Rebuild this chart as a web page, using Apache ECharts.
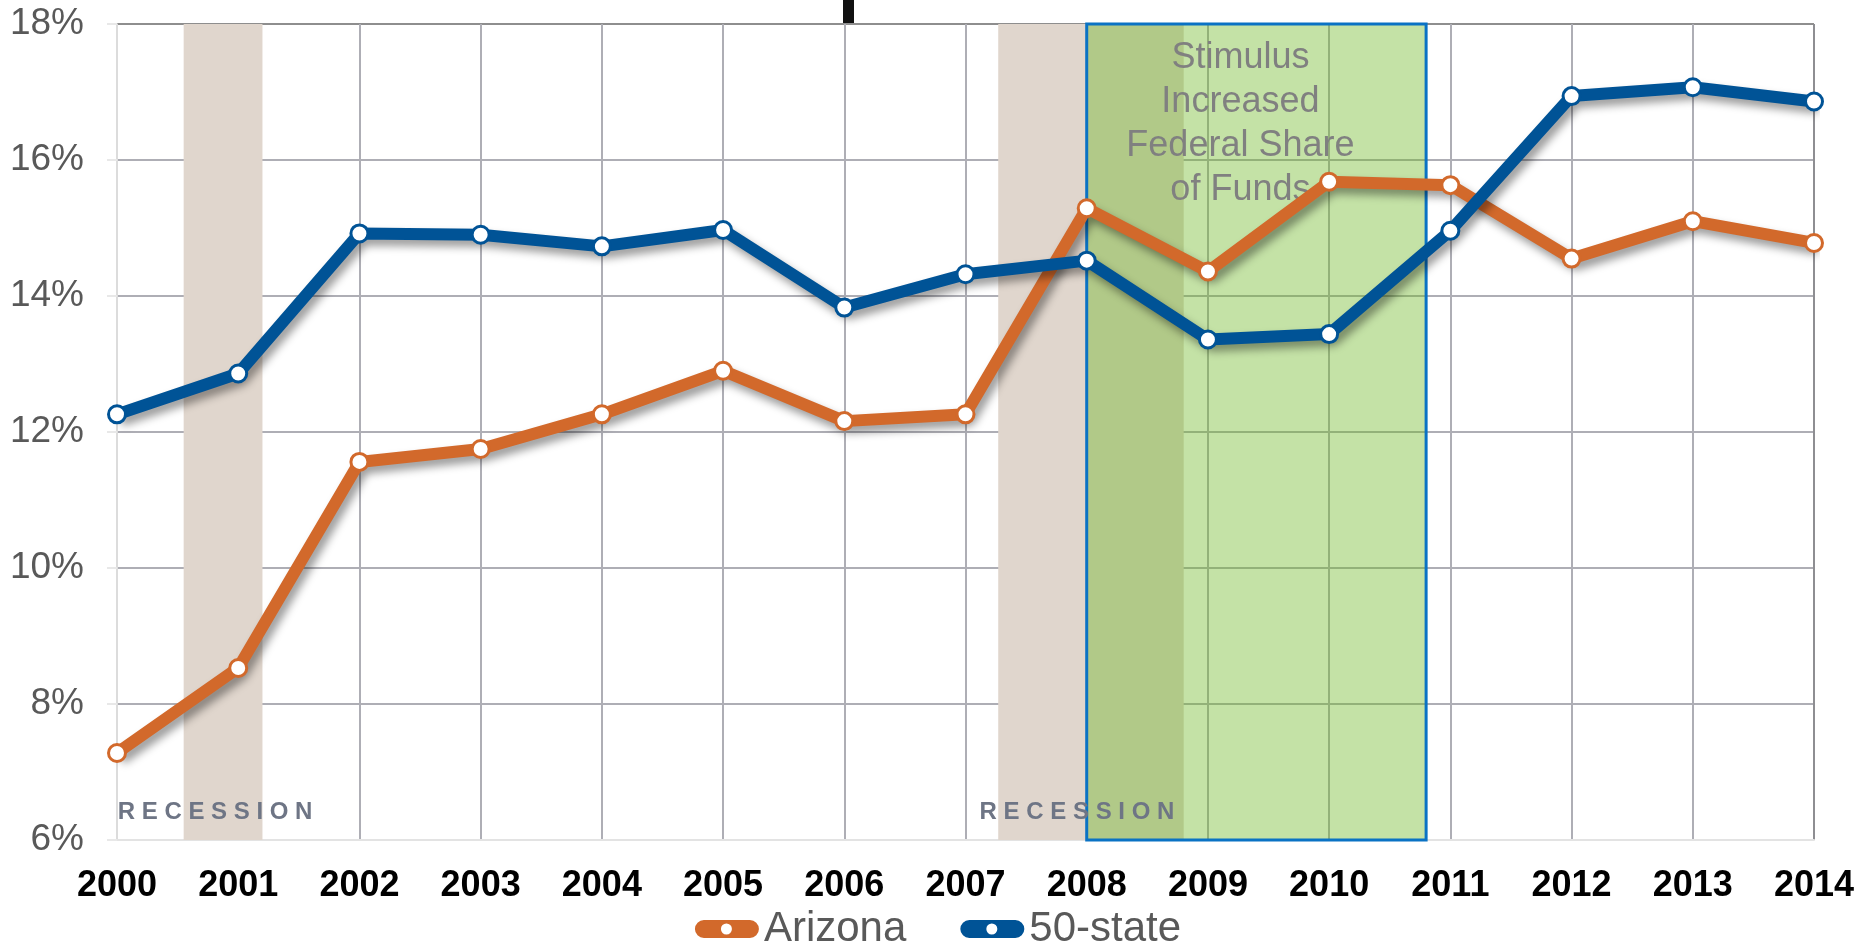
<!DOCTYPE html>
<html>
<head>
<meta charset="utf-8">
<script src="https://cdn.jsdelivr.net/npm/echarts@6/dist/echarts.min.js"></script>
<style>
html,body{margin:0;padding:0;background:#fff;}
#c{width:1876px;height:946px;}
</style>
</head>
<body>
<div id="c"></div>
<script>
const years = [2000,2001,2002,2003,2004,2005,2006,2007,2008,2009,2010,2011,2012,2013,2014];
const arizona = [7.28,8.53,11.56,11.75,12.26,12.90,12.16,12.26,15.29,14.36,15.68,15.63,14.55,15.10,14.78];
const fiftyState = [12.26,12.86,14.92,14.90,14.73,14.97,13.83,14.32,14.52,13.36,13.44,14.96,16.94,17.07,16.86];
const recessions = [[2000.55, 2001.2], [2007.27, 2008.8]];
const stimulus = [2008.0, 2010.8];
const stimulusText = 'Stimulus\nIncreased\nFederal Share\nof Funds';
const recessionText = 'R E C E S S I O N';
const yMin = 6, yMax = 18, yStep = 2;

const FONT = '"Liberation Sans", Arial, sans-serif';
const ORANGE = '#d2692b', BLUE = '#005396';
const toPairs = arr => years.map((y, i) => [y, arr[i]]);

const xSplitColors = years.map((y, i) => i === 0 ? '#dcdcdc' : (i === years.length - 1 ? '#8e8e92' : '#aeaeb5'));
const ySplitColors = [];
for (let v = yMin; v <= yMax; v += yStep) {
  ySplitColors.push(v === yMin ? '#e6e6e6' : (v === yMax ? '#8e8e8e' : '#aeaeb5'));
}

const lineShadow = {shadowColor:'rgba(0,0,0,0.4)', shadowBlur:8, shadowOffsetX:4, shadowOffsetY:6};
// rounded bar with a circular hole (legend icon)
const legendIcon = 'path://M9 0H55A9 9 0 0 1 55 18H9A9 9 0 0 1 9 0ZM37 9A5.5 5.5 0 0 0 26 9A5.5 5.5 0 0 0 37 9Z';

const chart = echarts.init(document.getElementById('c'), null, {renderer:'canvas'});
chart.setOption({
  animation:false,
  backgroundColor:'#ffffff',
  grid:{left:117, right:62, top:24, bottom:106, containLabel:false},
  xAxis:{
    type:'value', min:years[0], max:years[years.length-1], interval:1,
    axisLine:{show:true, onZero:false, lineStyle:{color:'#e3e3e3', width:2}},
    axisTick:{show:false},
    axisLabel:{formatter:v => String(v), color:'#000', fontFamily:FONT, fontWeight:'bold', fontSize:36, margin:28},
    splitLine:{show:true, lineStyle:{color:xSplitColors, width:2}}
  },
  yAxis:{
    type:'value', min:yMin, max:yMax, interval:yStep,
    axisLine:{show:true, lineStyle:{color:'#dcdcdc', width:1}},
    axisTick:{show:true, length:10, lineStyle:{color:'#e8e8e8', width:2}},
    axisLabel:{formatter:v => v + '%', color:'#595959', fontFamily:FONT, fontSize:37, margin:33},
    splitLine:{show:true, lineStyle:{color:ySplitColors, width:2}}
  },
  legend:{
    data:[
      {name:'Arizona', icon:legendIcon, itemStyle:{color:ORANGE, borderWidth:0}},
      {name:'50-state', icon:legendIcon, itemStyle:{color:BLUE, borderWidth:0}}
    ],
    bottom:-9, left:'center',
    itemWidth:64, itemHeight:18, itemGap:54,
    textStyle:{color:'#595959', fontFamily:FONT, fontSize:42}
  },
  graphic:[{type:'rect', left:843, top:0, shape:{width:11, height:24}, style:{fill:'#111'}}],
  series:[
    {
      name:'recessionAreas', type:'line', data:[], z:-3, silent:true,
      markArea:{silent:true, itemStyle:{color:'#e0d6cd'},
        data:recessions.map(r => [{xAxis:r[0]}, {xAxis:r[1]}])}
    },
    {
      name:'stimulusArea', type:'line', data:[], z:-2, silent:true,
      markArea:{silent:true,
        itemStyle:{color:'rgba(107,182,32,0.4)', borderColor:'#0a72c4', borderWidth:3},
        label:{show:true, position:'insideTop', distance:14, offset:[-16,0], formatter:stimulusText,
          color:'#808080', fontFamily:FONT, fontSize:36, lineHeight:44, align:'center'},
        data:[[{xAxis:stimulus[0]}, {xAxis:stimulus[1]}]]}
    },
    {
      name:'recessionLabels', type:'line', data:[], z:-1, silent:true,
      markArea:{silent:true, itemStyle:{color:'rgba(0,0,0,0)'},
        label:{show:true, position:'insideBottom', distance:16, formatter:recessionText,
          color:'#6e7585', fontFamily:FONT, fontWeight:'bold', fontSize:24},
        data:recessions.map((r, i) => [{xAxis:r[0], label:{offset:[i === 0 ? -8 : -14, 0]}}, {xAxis:r[1]}])}
    },
    {
      name:'Arizona', type:'line', data:toPairs(arizona), z:3,
      symbol:'circle', symbolSize:17, showSymbol:true,
      lineStyle:Object.assign({color:ORANGE, width:12}, lineShadow),
      itemStyle:{color:'#ffffff', borderColor:ORANGE, borderWidth:3}
    },
    {
      name:'50-state', type:'line', data:toPairs(fiftyState), z:4,
      symbol:'circle', symbolSize:17, showSymbol:true,
      lineStyle:Object.assign({color:BLUE, width:12}, lineShadow),
      itemStyle:{color:'#ffffff', borderColor:BLUE, borderWidth:3}
    }
  ]
});
</script>
</body>
</html>
